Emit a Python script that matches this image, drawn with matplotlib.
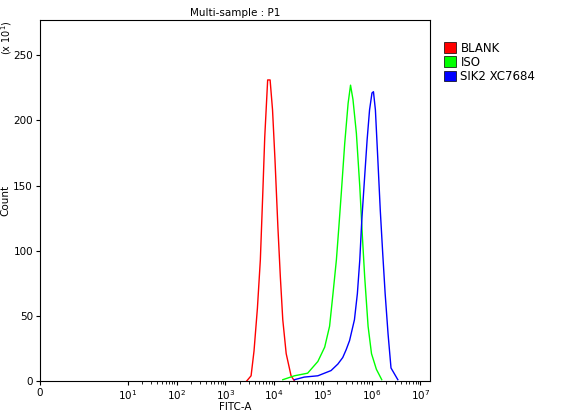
import matplotlib
matplotlib.use("Agg")
import matplotlib.pyplot as plt
import numpy as np
from matplotlib.patches import Patch

red_x = [3.44,3.53,3.59,3.66,3.72,3.77,3.81,3.87,3.92,3.97,4.02,4.08,4.13,4.18,4.25,4.35,4.42]
red_y = [0,4,23,56,93,144,187,231,231,208,170,118,80,47,21,4,0]
green_x = [4.18,4.42,4.69,4.90,5.04,5.14,5.21,5.28,5.33,5.38,5.45,5.52,5.57,5.62,5.69,5.76,5.81,5.86,5.93,6.00,6.10,6.21]
green_y = [1,4,6,15,26,42,67,93,118,144,182,213,227,216,190,149,113,80,42,21,9,1]
blue_x = [4.42,4.62,4.90,5.17,5.31,5.41,5.48,5.55,5.65,5.71,5.76,5.80,5.86,5.91,5.96,6.01,6.04,6.08,6.13,6.18,6.23,6.28,6.34,6.40,6.54]
blue_y = [1,3,4,8,13,18,24,31,47,67,93,123,157,185,208,221,222,208,170,131,98,67,36,10,1]
labels = ["BLANK", "ISO", "SIK2 XC7684"]
colors = ["#ff0000", "#00ff00", "#0000ff"]

fig = plt.figure(figsize=(5.66, 4.2), dpi=100)
ax = fig.add_axes([40/566, 39/420, 390/566, 361/420])
for xs, ys, c in zip([red_x, green_x, blue_x], [red_y, green_y, blue_y], colors):
    ax.plot(xs, ys, color=c, lw=1)
ax.set_xlim(-0.8, 7.2)
ax.set_ylim(0, 277)
ax.set_xticks([-0.8] + list(range(1, 8)))
ax.set_xticklabels(["0"] + [r"$10^{%d}$" % i for i in range(1, 8)], fontsize=7.5)
minor = [np.log10(k) + n for n in range(1, 7) for k in range(2, 10)]
ax.set_xticks(minor, minor=True)
ax.set_yticks(range(0, 251, 50))
ax.tick_params(labelsize=7.5, direction="out", length=3, pad=2)
ax.tick_params(which="minor", length=2)
ax.set_xlabel("FITC-A", fontsize=7.5, labelpad=0)
ax.set_ylabel("Count", fontsize=7.5, labelpad=2)
ax.set_title("Multi-sample : P1", fontsize=7.5, pad=3)
ax.text(-0.066, 1.0, r"(x 10$^{1}$)", transform=ax.transAxes, rotation=90,
        fontsize=7, ha="right", va="top")
handles = [Patch(facecolor=c, edgecolor="black", lw=0.5) for c in colors]
fig.legend(handles, labels, loc="upper left", bbox_to_anchor=(438/566, 0.915),
           frameon=False, fontsize=8.5, handlelength=1.0, handleheight=1.0,
           handletextpad=0.4, labelspacing=0.1, borderpad=0)
fig.savefig("out.png", dpi=100)
